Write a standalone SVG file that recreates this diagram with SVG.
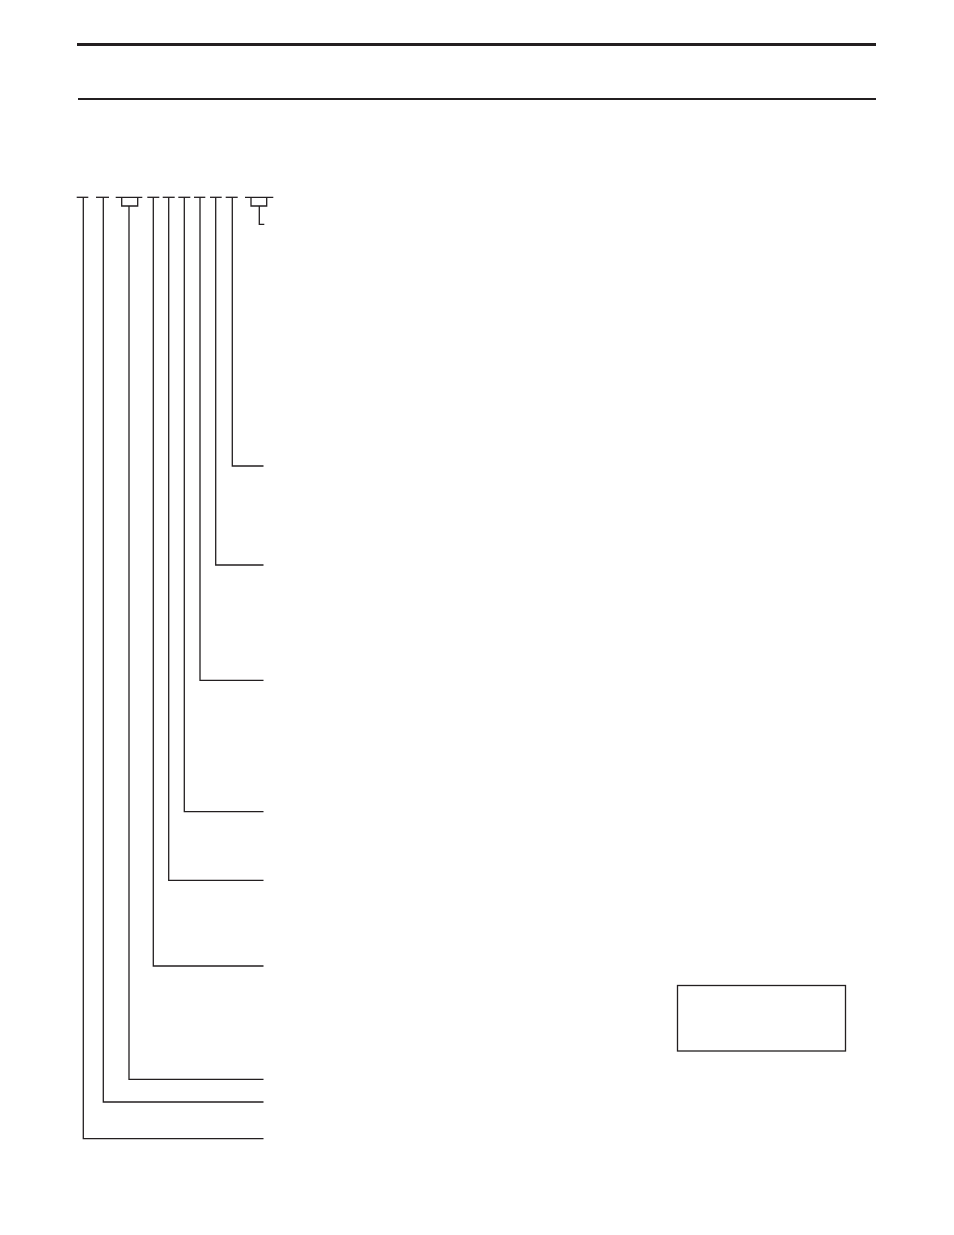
<svg xmlns="http://www.w3.org/2000/svg" width="954" height="1235" viewBox="0 0 954 1235">
<style>
.ln{fill:none;stroke:#231f20;stroke-width:1.3;stroke-linecap:butt;stroke-linejoin:miter}
.rule{stroke:#231f20}
</style>
<rect width="954" height="1235" fill="#fff"/>
<g id="header">
<line class="rule" x1="77" y1="44.5" x2="876" y2="44.5" stroke-width="3"/>
<line class="rule" x1="78" y1="99" x2="876" y2="99" stroke-width="2"/>
</g>
<g id="code-ticks">
<line class="ln" x1="76.7" y1="197.3" x2="88.3" y2="197.3"/>
<line class="ln" x1="96" y1="197.3" x2="109" y2="197.3"/>
<path class="ln" d="M115.7 197.3H142.3M121.7 197.3V206H137.7V197.3"/>
<line class="ln" x1="147.3" y1="197.3" x2="159.3" y2="197.3"/>
<line class="ln" x1="162.7" y1="197.3" x2="174.7" y2="197.3"/>
<line class="ln" x1="178.3" y1="197.3" x2="190.3" y2="197.3"/>
<line class="ln" x1="194" y1="197.3" x2="205.3" y2="197.3"/>
<line class="ln" x1="210" y1="197.3" x2="221.7" y2="197.3"/>
<line class="ln" x1="225.7" y1="197.3" x2="237.7" y2="197.3"/>
<path class="ln" d="M245 197.3H273.3M251 197.3V206H266.7V197.3"/>
</g>
<g id="connectors">
<path class="ln" d="M259.3 206V224.3H264.3"/>
<path class="ln" d="M232.3 197.3V466H263.5"/>
<path class="ln" d="M215.7 197.3V565H263.5"/>
<path class="ln" d="M200 197.3V680.3H263.5"/>
<path class="ln" d="M184.3 197.3V811.7H263.5"/>
<path class="ln" d="M168.7 197.3V880.3H263.5"/>
<path class="ln" d="M153.3 197.3V966H263.5"/>
<path class="ln" d="M129 206V1079.3H263.5"/>
<path class="ln" d="M103.3 197.3V1102H263.5"/>
<path class="ln" d="M83.3 197.3V1138.7H263.5"/>
</g>
<g id="box">
<rect class="ln" x="677.5" y="985.5" width="168" height="65.5"/>
</g>
</svg>
